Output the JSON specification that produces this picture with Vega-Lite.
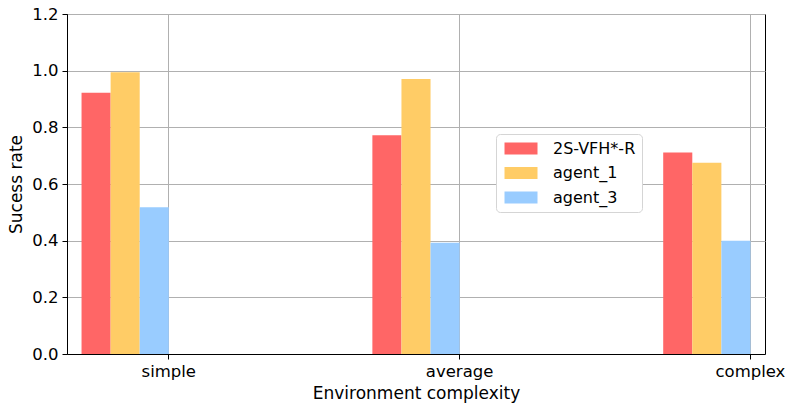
{
  "$schema": "https://vega.github.io/schema/vega-lite/v6.json",
  "width": 698,
  "height": 340,
  "autosize": {"type": "none"},
  "padding": {"left": 67, "top": 14, "right": 24, "bottom": 49},
  "background": "white",
  "config": {
    "font": "DejaVu Sans",
    "view": {"stroke": "black", "strokeWidth": 1},
    "axis": {
      "labelFont": "DejaVu Sans",
      "titleFont": "DejaVu Sans",
      "labelFontSize": 16.5,
      "titleFontSize": 17,
      "labelColor": "black",
      "titleColor": "black",
      "titleFontWeight": "normal",
      "domainColor": "black",
      "tickColor": "black",
      "tickSize": 5,
      "labelPadding": 4,
      "gridColor": "#b0b0b0",
      "gridWidth": 1,
      "gridOpacity": 1,
      "zindex": 1
    },
    "legend": {
      "labelFont": "DejaVu Sans",
      "labelFontSize": 16,
      "labelColor": "black"
    }
  },
  "data": {
    "values": [
      {"complexity": "simple", "method": "2S-VFH*-R", "rate": 0.922},
      {"complexity": "simple", "method": "agent_1", "rate": 0.994},
      {"complexity": "simple", "method": "agent_3", "rate": 0.518},
      {"complexity": "average", "method": "2S-VFH*-R", "rate": 0.772},
      {"complexity": "average", "method": "agent_1", "rate": 0.971},
      {"complexity": "average", "method": "agent_3", "rate": 0.393},
      {"complexity": "complex", "method": "2S-VFH*-R", "rate": 0.711},
      {"complexity": "complex", "method": "agent_1", "rate": 0.675},
      {"complexity": "complex", "method": "agent_3", "rate": 0.4}
    ]
  },
  "mark": {"type": "bar", "strokeWidth": 0},
  "encoding": {
    "x": {
      "field": "complexity",
      "type": "nominal",
      "sort": ["simple", "average", "complex"],
      "scale": {"paddingInner": 0.7, "paddingOuter": 0.05, "align": 0.5},
      "axis": {
        "title": "Environment complexity",
        "labelAngle": 0,
        "bandPosition": 1,
        "labelOffset": 43.6,
        "grid": true,
        "titlePadding": 6
      }
    },
    "xOffset": {
      "field": "method",
      "type": "nominal",
      "sort": ["2S-VFH*-R", "agent_1", "agent_3"],
      "scale": {"paddingInner": 0, "paddingOuter": 0}
    },
    "y": {
      "field": "rate",
      "type": "quantitative",
      "scale": {"domain": [0, 1.2], "nice": false, "zero": true},
      "axis": {
        "title": "Sucess rate",
        "values": [0, 0.2, 0.4, 0.6, 0.8, 1.0, 1.2],
        "format": ".1f",
        "grid": true,
        "titlePadding": 6
      }
    },
    "color": {
      "field": "method",
      "type": "nominal",
      "scale": {
        "domain": ["2S-VFH*-R", "agent_1", "agent_3"],
        "range": ["#ff6666", "#ffcc66", "#99ccff"]
      },
      "legend": {
        "title": null,
        "orient": "none",
        "legendX": 429,
        "legendY": 120,
        "fillColor": "white",
        "strokeColor": "#d5d5d5",
        "cornerRadius": 4,
        "padding": 6.5,
        "rowPadding": 8.5,
        "symbolType": "M-1.09,-1.09H4.91V1.09H-1.09Z",
        "symbolSize": 121,
        "symbolStrokeWidth": 0,
        "symbolOpacity": 1,
        "labelOffset": 34.5
      }
    }
  }
}
